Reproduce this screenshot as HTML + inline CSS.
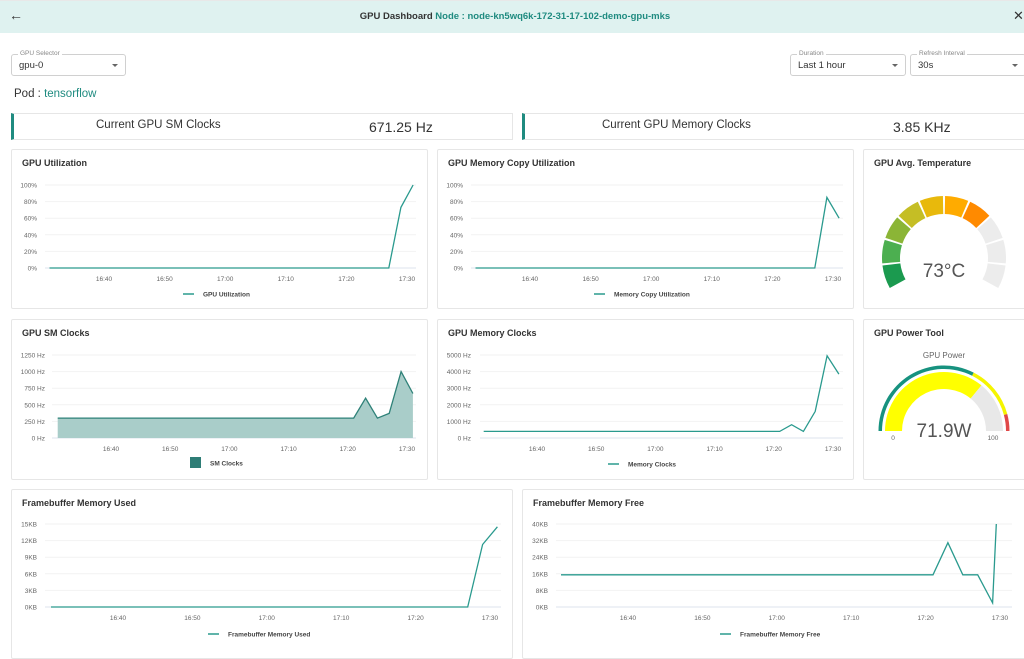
<!DOCTYPE html>
<html><head><meta charset="utf-8">
<style>
body{margin:0;width:1024px;height:645px;overflow:hidden;background:#fff;font-family:"Liberation Sans",sans-serif;position:relative}
.abs{position:absolute}
.card{position:absolute;border:1px solid #e6e6e6;border-radius:2px;background:#fff;box-sizing:border-box}
.title{position:absolute;left:10px;top:8px;font-size:9px;color:#333;font-weight:bold}
.sel{position:absolute;border:1px solid #d0d0d0;border-radius:3px;height:22px;box-sizing:border-box}
.sel .lb{position:absolute;left:6px;top:-5px;background:#fff;padding:0 2px;font-size:6.5px;color:#888}
.sel .v{position:absolute;left:7px;top:5px;font-size:9.5px;color:#333}
.sel .ar{position:absolute;right:7px;top:9px;width:0;height:0;border-left:3px solid transparent;border-right:3px solid transparent;border-top:3px solid #666}
.stat{position:absolute;border:1px solid #e6e6e6;border-left:3px solid #1f8b80;box-sizing:border-box;height:27px}
.stat .n{position:absolute;top:5px;font-size:11.5px;color:#333}
.stat .val{position:absolute;top:5px;font-size:14px;color:#333}
</style></head><body>
<div class="abs" style="left:0;top:0;width:1024px;height:33px;background:#dff2f0;border-top:1px solid #e8e8e8;box-sizing:border-box"></div>
<div class="abs" style="left:9px;top:7px;font-size:14px;color:#333">&#8592;</div>
<div class="abs" style="left:3px;width:1024px;top:11px;text-align:center;font-size:9.5px;font-weight:bold;color:#333">GPU Dashboard <span style="color:#1f8b80">Node : node-kn5wq6k-172-31-17-102-demo-gpu-mks</span></div>
<div class="abs" style="left:1013px;top:8px;font-size:13px;color:#333">&#10005;</div>

<div class="sel" style="left:11px;top:54px;width:115px"><span class="lb">GPU Selector</span><span class="v">gpu-0</span><span class="ar"></span></div>
<div class="sel" style="left:790px;top:54px;width:116px"><span class="lb">Duration</span><span class="v">Last 1 hour</span><span class="ar"></span></div>
<div class="sel" style="left:910px;top:54px;width:116px"><span class="lb">Refresh Interval</span><span class="v">30s</span><span class="ar"></span></div>
<div class="abs" style="left:14px;top:88px;font-size:11.5px;color:#333">Pod : <span style="color:#1f8b80">tensorflow</span></div>

<div class="stat" style="left:11px;top:113px;width:502px"><span class="n" style="left:82px">Current GPU SM Clocks</span><span class="val" style="left:355px">671.25 Hz</span></div>
<div class="stat" style="left:522px;top:113px;width:510px"><span class="n" style="left:77px">Current GPU Memory Clocks</span><span class="val" style="left:368px">3.85 KHz</span></div>

<div class="card" style="left:11px;top:149px;width:417px;height:160px"><div class="title">GPU Utilization</div></div>
<div class="card" style="left:437px;top:149px;width:417px;height:160px"><div class="title">GPU Memory Copy Utilization</div></div>
<div class="card" style="left:863px;top:149px;width:170px;height:160px"><div class="title">GPU Avg. Temperature</div></div>
<div class="card" style="left:11px;top:319px;width:417px;height:161px"><div class="title">GPU SM Clocks</div></div>
<div class="card" style="left:437px;top:319px;width:417px;height:161px"><div class="title">GPU Memory Clocks</div></div>
<div class="card" style="left:863px;top:319px;width:170px;height:161px"><div class="title">GPU Power Tool</div></div>
<div class="card" style="left:11px;top:489px;width:502px;height:170px"><div class="title">Framebuffer Memory Used</div></div>
<div class="card" style="left:522px;top:489px;width:510px;height:170px"><div class="title">Framebuffer Memory Free</div></div>

<svg id="svg" class="abs" style="left:0;top:0" width="1024" height="645" xmlns="http://www.w3.org/2000/svg" font-family="Liberation Sans, sans-serif"></svg>

<script>
// data (minutes relative to 16:40)
const xTickMins=[0,10,20,30,40,50];
const xTickLabels=['16:40','16:50','17:00','17:10','17:20','17:30'];
const utilTimes=[-9,47,49,51];
const utilValues=[0,0,73,100];
const memCopyTimes=[-9,47,49,51];
const memCopyValues=[0,0,85,60];
const smTimes=[-9,41,43,45,47,49,51];
const smValues=[300,300,600,300,370,1000,670];
const memClkTimes=[-9,41,43,45,47,49,51];
const memClkValues=[400,400,800,400,1600,4950,3850];
const fbUsedTimes=[-9,47,49,51];
const fbUsedValues=[0,0,11.3,14.5];
const fbFreeTimes=[-9,41,43,45,47,49,49.5];
const fbFreeValues=[15.5,15.5,31,15.5,15.5,2,40];
const pctTicks=[0,20,40,60,80,100];
const smTicks=[0,250,500,750,1000,1250];
const memClkTicks=[0,1000,2000,3000,4000,5000];
const fbUsedTicks=[0,3,6,9,12,15];
const fbFreeTicks=[0,8,16,24,32,40];
const tempValue=73;
const tempMax=100;
const powerValue=71.9;
const powerMax=100;

const svg=document.getElementById('svg');
const NS='http://www.w3.org/2000/svg';
function mk(tag,attrs,parent){const e=document.createElementNS(NS,tag);for(const k in attrs)e.setAttribute(k,attrs[k]);(parent||svg).appendChild(e);return e;}

function chart(name,times,values,ticks,unit,c){
  const g=mk('g',{});
  
  
  const yMax=ticks[ticks.length-1];
  const X=t=>c.px0+(c.px50-c.px0)*t/50;
  const Y=v=>c.yBot-(c.yBot-c.yTop)*v/yMax;
  ticks.forEach(tv=>{
    const ln=mk('line',{x1:c.gx0,x2:c.gx1,y1:Y(tv),y2:Y(tv),stroke:tv===0?'#dde3ee':'#f2f2f2','stroke-width':1},g);
    
    
    const t=mk('text',{x:c.lx,y:Y(tv)+2.5,'text-anchor':'end','font-size':6.5,fill:'#666'},g);
    t.textContent=tv+unit;
    
    
  });
  xTickMins.forEach((m,i)=>{
    const t=mk('text',{x:X(m),y:c.yBot+13,'text-anchor':'middle','font-size':6.5,fill:'#666'},g);
    t.textContent=xTickLabels[i];
    
    
  });
  const pts=times.map((t,i)=>X(t).toFixed(1)+','+Y(values[i]).toFixed(1));
  if(c.area){
    const a=mk('polygon',{points:pts.join(' ')+' '+X(times[times.length-1])+','+c.yBot+' '+X(times[0])+','+c.yBot,fill:'#a9cdc9'},g);
    
    
  }
  const p=mk('polyline',{points:pts.join(' '),fill:'none',stroke:c.area?'#2e8178':'#2a9a8e','stroke-width':1.3},g);
  
  
  if(c.area){
    const s=mk('rect',{x:c.legX,y:c.legY-6,width:11,height:11,fill:'#2e7d76'},g);
    
    
  }else{
    const s=mk('line',{x1:c.legX,x2:c.legX+11,y1:c.legY,y2:c.legY,stroke:'#2a9a8e','stroke-width':1.5},g);
    
    
  }
  const lt=mk('text',{x:c.legX+20,y:c.legY+2.5,'font-size':6.5,'font-weight':'bold',fill:'#444'},g);
  lt.textContent=c.legend;
  
  
}

chart('gpu-utilization',utilTimes,utilValues,pctTicks,'%',{px0:104,px50:407,gx0:45,gx1:416,lx:37,yTop:185,yBot:268,legX:183,legY:294,legend:'GPU Utilization'});
chart('memory-copy',memCopyTimes,memCopyValues,pctTicks,'%',{px0:530,px50:833,gx0:471,gx1:843,lx:463,yTop:185,yBot:268,legX:594,legY:294,legend:'Memory Copy Utilization'});
chart('sm-clocks',smTimes,smValues,smTicks,' Hz',{px0:111,px50:407,gx0:52,gx1:416,lx:45,yTop:355,yBot:438,legX:190,legY:463,legend:'SM Clocks',area:true});
chart('memory-clocks',memClkTimes,memClkValues,memClkTicks,' Hz',{px0:537,px50:833,gx0:480,gx1:843,lx:471,yTop:355,yBot:438,legX:608,legY:464,legend:'Memory Clocks'});
chart('fb-used',fbUsedTimes,fbUsedValues,fbUsedTicks,'KB',{px0:118,px50:490,gx0:45,gx1:501,lx:37,yTop:524,yBot:607,legX:208,legY:634,legend:'Framebuffer Memory Used'});
chart('fb-free',fbFreeTimes,fbFreeValues,fbFreeTicks,'KB',{px0:628,px50:1000,gx0:556,gx1:1012,lx:548,yTop:524,yBot:607,legX:720,legY:634,legend:'Framebuffer Memory Free'});

// temperature gauge
(function(){
  const cx=944,cy=258,ro=62,ri=44,n=10,start=210,span=240,gap=2;
  const cols=['#1b9a4f','#4caf50','#8bb536','#c5be25','#e8b90c','#ffab00','#ff8a00'];
  const lit=Math.round(tempValue/tempMax*n);
  const pt=(r,a)=>[cx+r*Math.cos(a*Math.PI/180),cy-r*Math.sin(a*Math.PI/180)];
  for(let i=0;i<n;i++){
    const a1=start-i*span/n-gap/2, a2=start-(i+1)*span/n+gap/2;
    const [x1,y1]=pt(ro,a1),[x2,y2]=pt(ro,a2),[x3,y3]=pt(ri,a2),[x4,y4]=pt(ri,a1);
    const p=mk('path',{d:`M${x1},${y1}A${ro},${ro} 0 0 1 ${x2},${y2}L${x3},${y3}A${ri},${ri} 0 0 0 ${x4},${y4}Z`,fill:i<lit?cols[Math.min(i,cols.length-1)]:'#ececec'});
    
    
  }
  const t=mk('text',{x:cx,y:cy+19,'text-anchor':'middle','font-size':19,fill:'#555'});
  t.textContent=tempValue+'°C';
  
  
})();

// power gauge
(function(){
  const cx=944,cy=431,ro=59,ri=42,r2=64;
  const pt=(r,a)=>[cx+r*Math.cos(a*Math.PI/180),cy-r*Math.sin(a*Math.PI/180)];
  function band(a1,a2,rO,rI,fill,name){
    const [x1,y1]=pt(rO,a1),[x2,y2]=pt(rO,a2),[x3,y3]=pt(rI,a2),[x4,y4]=pt(rI,a1);
    const p=mk('path',{d:`M${x1},${y1}A${rO},${rO} 0 0 1 ${x2},${y2}L${x3},${y3}A${rI},${rI} 0 0 0 ${x4},${y4}Z`,fill});
    
    
  }
  const va=180-180*powerValue/powerMax;
  band(180,va,ro,ri,'#ffff00','power-gauge-value');
  band(va,0,ro,ri,'#e8e8e8','power-gauge-remaining');
  band(180,63,r2+1.5,r2-2,'#17927f','power-band-normal');
  band(63,15,r2+1.5,r2-2,'#f5f500','power-band-warning');
  band(15,0,r2+1.5,r2-2,'#e04848','power-band-critical');
  const t1=mk('text',{x:cx,y:358,'text-anchor':'middle','font-size':8,fill:'#666'});t1.textContent='GPU Power';
  
  
  const t=mk('text',{x:cx,y:cy+6,'text-anchor':'middle','font-size':19,fill:'#555'});t.textContent=powerValue+'W';
  
  
  const a=mk('text',{x:893,y:cy+9,'text-anchor':'middle','font-size':6.5,fill:'#666'});a.textContent='0';
  
  
  const b=mk('text',{x:993,y:cy+9,'text-anchor':'middle','font-size':6.5,fill:'#666'});b.textContent=String(powerMax);
  
  
})();
</script>
</body></html>
